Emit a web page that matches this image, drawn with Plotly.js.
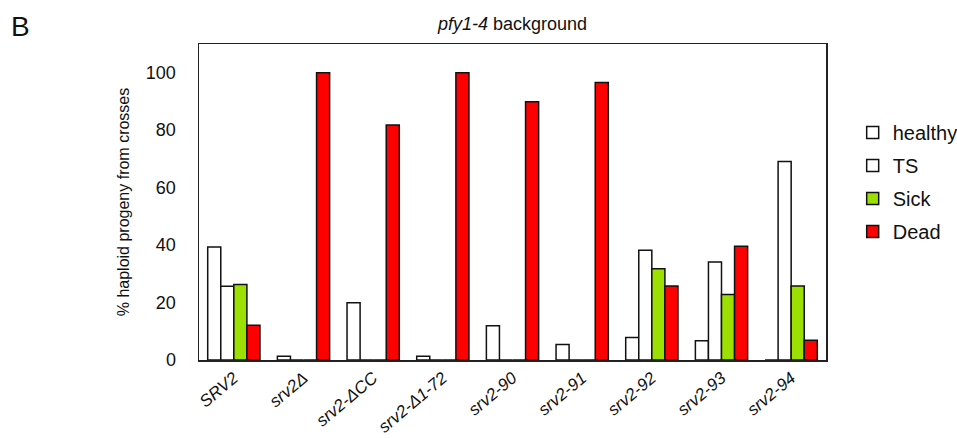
<!DOCTYPE html>
<html>
<head>
<meta charset="utf-8">
<script src="https://cdn.plot.ly/plotly-3.0.1.min.js"></script>
<style>html,body{margin:0;padding:0;background:#fff;}#chart{width:957px;height:438px;}</style>
</head>
<body>
<div id="chart"></div>
<script>
const categories = ["SRV2", "srv2Δ", "srv2-ΔCC", "srv2-Δ1-72", "srv2-90", "srv2-91", "srv2-92", "srv2-93", "srv2-94"];
const healthy = [39.3, 1.3, 19.9, 1.3, 11.9, 5.4, 7.8, 6.7, 0];
const ts      = [25.7, 0, 0, 0, 0, 0, 38.2, 34.1, 69.1];
const sick    = [26.3, 0, 0, 0, 0, 0, 31.8, 22.8, 25.8];
const dead    = [12.1, 100, 81.8, 100, 89.9, 96.6, 25.8, 39.6, 6.9];
const seriesNames = ["healthy", "TS", "Sick", "Dead"];
const seriesColors = ["#ffffff", "#ffffff", "#9be000", "#ff0000"];
const yTicks = [0, 20, 40, 60, 80, 100];

const FONT = "Liberation Sans, Arial, Helvetica, sans-serif";
const values = [healthy, ts, sick, dead];
const traces = values.map((v, i) => ({
  type: "bar",
  name: seriesNames[i],
  x: categories,
  y: v,
  legendgroup: "g" + i,
  marker: {color: seriesColors[i], line: {color: "#111", width: 1.5}},
  hoverinfo: "none"
}));

const layout = {
  width: 957, height: 438,
  margin: {l: 199, r: 131, t: 44, b: 78},
  paper_bgcolor: "#fff", plot_bgcolor: "#fff",
  font: {family: FONT, color: "#111"},
  barmode: "group", bargap: 0.25, bargroupgap: 0,
  title: {text: "<i>pfy1-4</i> background", font: {size: 18, family: FONT, color: "#111"},
          x: 0.5, xref: "paper", xanchor: "center", y: 0.945, yref: "container", yanchor: "middle"},
  xaxis: {
    showline: true, mirror: true, linecolor: "#222", linewidth: 1.5,
    ticks: "", tickangle: -40, tickfont: {size: 17, style: "italic", family: FONT, color: "#111"},
    showgrid: false, zeroline: false, automargin: false
  },
  yaxis: {
    range: [0, 110], tickvals: yTicks, ticktext: yTicks.map(String),
    showline: true, mirror: true, linecolor: "#222", linewidth: 1.5,
    ticks: "", ticklabelstandoff: 18, tickfont: {size: 18, family: FONT, color: "#111"},
    showgrid: false, zeroline: false, automargin: false,
    title: {text: "% haploid progeny from crosses", font: {size: 16, family: FONT, color: "#111"}, standoff: 12}
  },
  legend: {
    xref: "container", yref: "container",
    x: 0.891, xanchor: "left", y: 0.742, yanchor: "top",
    font: {size: 20, family: FONT, color: "#111"},
    tracegroupgap: 4, bgcolor: "rgba(0,0,0,0)", itemclick: false
  },
  showlegend: true,
  annotations: [{text: "B", xref: "paper", yref: "paper", x: -0.303, y: 1.054, xanchor: "left", yanchor: "middle",
                 showarrow: false, font: {size: 28, family: FONT, color: "#111"}}]
};

Plotly.newPlot("chart", traces, layout, {staticPlot: true, displayModeBar: false});
</script>
</body>
</html>
